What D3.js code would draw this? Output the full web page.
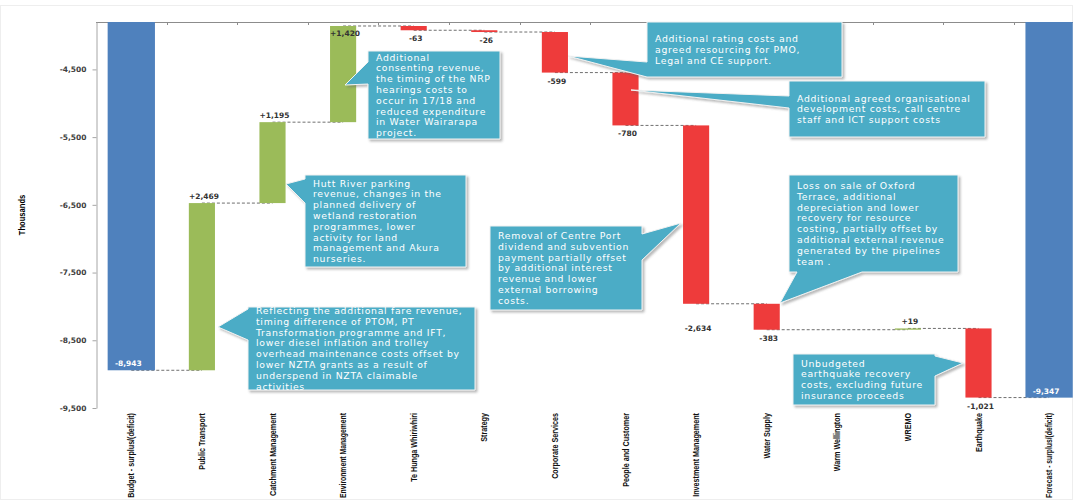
<!DOCTYPE html>
<html>
<head>
<meta charset="utf-8">
<script src="https://cdn.jsdelivr.net/npm/d3@7"></script>
<style>
  body { margin: 0; background: #fff; }
</style>
</head>
<body>
<div id="container"></div>
<script>
"use strict";

const categories = [
  "Budget - surplus/(deficit)",
  "Public Transport",
  "Catchment Management",
  "Environment Management",
  "Te Hunga Whiriwhiri",
  "Strategy",
  "Corporate Services",
  "People and Customer",
  "Investment Management",
  "Water Supply",
  "Warm Wellington",
  "WREMO",
  "Earthquake",
  "Forecast - surplus/(deficit)",
];
// totals are absolute values, the rest are changes
const values = [-8943, 2469, 1195, 1420, -63, -26, -599, -780, -2634, -383, 0, 19, -1021, -9347];
const isTotal = [true, false, false, false, false, false, false, false, false, false, false, false, false, true];
const yTicks = [-4500, -5500, -6500, -7500, -8500, -9500];
const yDomain = [-9500, -3800];
const axisTitle = "Thousands";

const noteTexts = [
  ["Reflecting the additional fare revenue,", "timing difference of PTOM, PT", "Transformation programme and IFT,",
   "lower diesel inflation and trolley", "overhead maintenance costs offset by", "lower NZTA grants as a result of",
   "underspend in NZTA claimable", "activities"],
  ["Hutt River parking", "revenue, changes in the", "planned delivery of", "wetland restoration",
   "programmes, lower", "activity for land", "management and Akura", "nurseries."],
  ["Additional", "consenting revenue,", "the timing of the NRP", "hearings costs to",
   "occur in 17/18 and", "reduced expenditure", "in Water Wairarapa", "project."],
  ["Removal of Centre Port", "dividend and subvention", "payment partially offset", "by additional interest",
   "revenue and lower", "external borrowing", "costs."],
  ["Additional rating costs and", "agreed resourcing for PMO,", "Legal and CE support."],
  ["Additional agreed organisational", "development costs, call centre", "staff and ICT support costs"],
  ["Loss on sale of Oxford", "Terrace, additional", "depreciation and lower", "recovery for resource",
   "costing, partially offset by", "additional external revenue", "generated by the pipelines", "team ."],
  ["Unbudgeted", "earthquake recovery", "costs, excluding future", "insurance proceeds"],
];

// callout placement (pixels): box, side of the tail, tail base span, tail tip
const noteLayout = [
  { box: [248, 307, 227, 83], side: "left", base: [309, 340], tip: [218, 327] },
  { box: [305, 175, 161, 92], side: "left", base: [179, 203], tip: [286, 184] },
  { box: [368, 51, 132, 88], side: "left", base: [62, 84], tip: [345, 85] },
  { box: [490, 226, 152, 84], side: "right", base: [234, 260], tip: [681, 223] },
  { box: [647, 22, 195, 55], side: "left", base: [62, 77], tip: [568, 56] },
  { box: [789, 81, 196, 56], side: "left", base: [96, 108], tip: [631, 90] },
  { box: [789, 175, 169, 97], side: "bottom", base: [797, 862], tip: [780, 303] },
  { box: [793, 354, 142, 51], side: "right", base: [356, 376], tip: [963, 363] },
];

const width = 1073;
const height = 501;
const plotLeft = 96;
const plotTop = 22;
const plotBottom = 408;
const step = 70.6;
const labelTop = 413;

const blue = "#4F81BD";
const green = "#9BBB59";
const red = "#EE3B3B";
const noteFill = "#4BACC6";
const labelFont = "'DejaVu Sans', sans-serif";
const catFont = "'Liberation Sans', Arial, sans-serif";

const locale = d3.formatLocale({ decimal: ".", thousands: ",", grouping: [3], currency: ["$", ""], minus: "-" });
const fmtTotal = locale.format(",");
const fmtChange = locale.format("+,");

// running totals for the floating bars
let running = 0;
const bars = values.map((v, i) => {
  let start, end;
  if (isTotal[i]) {
    start = 0;
    end = v;
  } else {
    start = running;
    end = running + v;
  }
  running = end;
  return { name: categories[i], value: v, total: isTotal[i], start, end };
});

const x = d3.scaleBand()
  .domain(categories)
  .range([plotLeft, plotLeft + step * categories.length])
  .paddingInner(0)
  .paddingOuter(0);

const y = d3.scaleLinear().domain(yDomain).range([plotBottom, plotTop]);

const cx = (d) => x(d.name) + x.bandwidth() / 2;
const barW = (d) => x.bandwidth() * (d.total ? 0.67 : 0.37);

const svg = d3.select("#container")
  .append("svg")
  .attr("width", width)
  .attr("height", height)
  .style("display", "block");

const defs = svg.append("defs");
defs.append("clipPath").attr("id", "plotClip")
  .append("rect")
  .attr("x", plotLeft).attr("y", plotTop)
  .attr("width", width - plotLeft).attr("height", plotBottom - plotTop + 2);

const shadow = defs.append("filter").attr("id", "shadow")
  .attr("x", "-10%").attr("y", "-10%").attr("width", "130%").attr("height", "130%");
shadow.append("feDropShadow")
  .attr("dx", 2).attr("dy", 2).attr("stdDeviation", 1.2)
  .attr("flood-color", "#666").attr("flood-opacity", 0.45);

// faint outer frame
svg.append("rect")
  .attr("x", 0.5).attr("y", 5.5)
  .attr("width", width - 1).attr("height", height - 7)
  .attr("fill", "none").attr("stroke", "#eeeeee");

// top category axis line with boundary ticks
const topAxis = svg.append("g").attr("stroke", "#8c8c8c").attr("stroke-width", 1);
topAxis.append("line")
  .attr("x1", plotLeft).attr("x2", x.range()[1])
  .attr("y1", plotTop + 0.5).attr("y2", plotTop + 0.5);
topAxis.selectAll("line.tick")
  .data(categories.slice(1))
  .enter()
  .append("line")
  .attr("class", "tick")
  .attr("x1", (d) => Math.round(x(d)) + 0.5)
  .attr("x2", (d) => Math.round(x(d)) + 0.5)
  .attr("y1", plotTop)
  .attr("y2", plotTop + 3);

// value axis
const yAxis = d3.axisLeft(y)
  .tickValues(yTicks)
  .tickFormat(fmtTotal)
  .tickSize(4)
  .tickSizeOuter(0)
  .tickPadding(6);

const yAxisG = svg.append("g")
  .attr("transform", `translate(${plotLeft + 0.5},0)`)
  .call(yAxis);
yAxisG.select(".domain").attr("stroke", "#a6a6a6");
yAxisG.selectAll(".tick line").attr("stroke", "#a6a6a6");
yAxisG.selectAll(".tick text")
  .style("font-family", labelFont)
  .style("font-size", "7.5px")
  .style("font-weight", "bold")
  .attr("fill", "#404040");

svg.append("text")
  .attr("transform", `translate(25, ${(plotTop + plotBottom) / 2}) rotate(-90) scale(0.8,1)`)
  .attr("text-anchor", "middle")
  .style("font-family", catFont)
  .style("font-size", "9.5px")
  .style("font-weight", "bold")
  .text(axisTitle);

// category labels, set narrow; long ones squeezed to stay inside the picture
const room = height - labelTop - 3;
svg.append("g")
  .selectAll("text")
  .data(bars)
  .enter()
  .append("text")
  .attr("text-anchor", "end")
  .style("font-family", catFont)
  .style("font-size", "9px")
  .style("font-weight", "bold")
  .attr("fill", "#111")
  .text((d) => d.name)
  .each(function (d) {
    const len = this.getComputedTextLength();
    const k = Math.min(0.8, room / len);
    d3.select(this).attr("transform", `translate(${cx(d) + 3}, ${labelTop}) rotate(-90) scale(${k},1)`);
  });

const plot = svg.append("g").attr("clip-path", "url(#plotClip)");

// connectors
const links = bars.slice(0, -1).map((d, i) => ({ from: d, to: bars[i + 1], level: d.end }));
plot.selectAll("line.link")
  .data(links)
  .enter()
  .append("line")
  .attr("class", "link")
  .attr("x1", (d) => cx(d.from))
  .attr("x2", (d) => cx(d.to))
  .attr("y1", (d) => y(d.level))
  .attr("y2", (d) => y(d.level))
  .attr("stroke", "#6f6f6f")
  .attr("stroke-width", 1)
  .attr("stroke-dasharray", "3,2");

// bars
plot.selectAll("rect.bar")
  .data(bars.filter((d) => d.value !== 0))
  .enter()
  .append("rect")
  .attr("class", "bar")
  .attr("x", (d) => cx(d) - barW(d) / 2)
  .attr("width", barW)
  .attr("y", (d) => y(Math.max(d.start, d.end)))
  .attr("height", (d) => Math.max(1, Math.abs(y(d.start) - y(d.end))))
  .attr("fill", (d) => (d.total ? blue : d.value > 0 ? green : red));

// value labels
const labelNudge = { "Investment Management": 16 };
svg.append("g")
  .selectAll("text")
  .data(bars.filter((d) => d.value !== 0))
  .enter()
  .append("text")
  .attr("x", (d) => cx(d) + (d.total ? -3 : 2))
  .attr("y", (d) => {
    if (d.total) return y(d.end) - 4;
    const top = y(Math.max(d.start, d.end));
    const bottom = y(Math.min(d.start, d.end));
    if (d.value > 0) return top - 12 < plotTop ? top + 10 : top - 4;
    return bottom + 11 + (labelNudge[d.name] || 0);
  })
  .attr("text-anchor", "middle")
  .style("font-family", labelFont)
  .style("font-size", "7.5px")
  .style("font-weight", "bold")
  .attr("fill", (d) => (d.total ? "#ffffff" : "#333333"))
  .text((d) => (d.total ? fmtTotal(d.value) : fmtChange(d.value)));

// callouts
function calloutPath(n) {
  const [bx, by, bw, bh] = n.box;
  const x0 = bx, y0 = by, x1 = bx + bw, y1 = by + bh;
  const lo = Math.min(n.base[0], n.base[1]);
  const hi = Math.max(n.base[0], n.base[1]);
  const pts = [[x0, y0]];
  if (n.side === "top") pts.push([lo, y0], n.tip, [hi, y0]);
  pts.push([x1, y0]);
  if (n.side === "right") pts.push([x1, lo], n.tip, [x1, hi]);
  pts.push([x1, y1]);
  if (n.side === "bottom") pts.push([hi, y1], n.tip, [lo, y1]);
  pts.push([x0, y1]);
  if (n.side === "left") pts.push([x0, hi], n.tip, [x0, lo]);
  return "M" + pts.map((p) => p.join(",")).join("L") + "Z";
}

const lineH = 10.8;
const notes = svg.append("g")
  .selectAll("g")
  .data(noteLayout.map((l, i) => ({ ...l, lines: noteTexts[i] })))
  .enter()
  .append("g");

notes.append("path")
  .attr("d", calloutPath)
  .attr("fill", noteFill)
  .attr("stroke", "#f2f2f2")
  .attr("stroke-width", 1)
  .attr("filter", "url(#shadow)");

notes.append("text")
  .style("font-family", labelFont)
  .style("font-size", "9.3px")
  .style("letter-spacing", "0.7px")
  .attr("fill", "#ffffff")
  .each(function (d) {
    const [bx, by, , bh] = d.box;
    const first = by + bh / 2 - ((d.lines.length - 1) / 2) * lineH + 3.3;
    d3.select(this)
      .selectAll("tspan")
      .data(d.lines)
      .enter()
      .append("tspan")
      .attr("x", bx + 8)
      .attr("y", (_l, i) => first + i * lineH)
      .text((l) => l);
  });
</script>
</body>
</html>
